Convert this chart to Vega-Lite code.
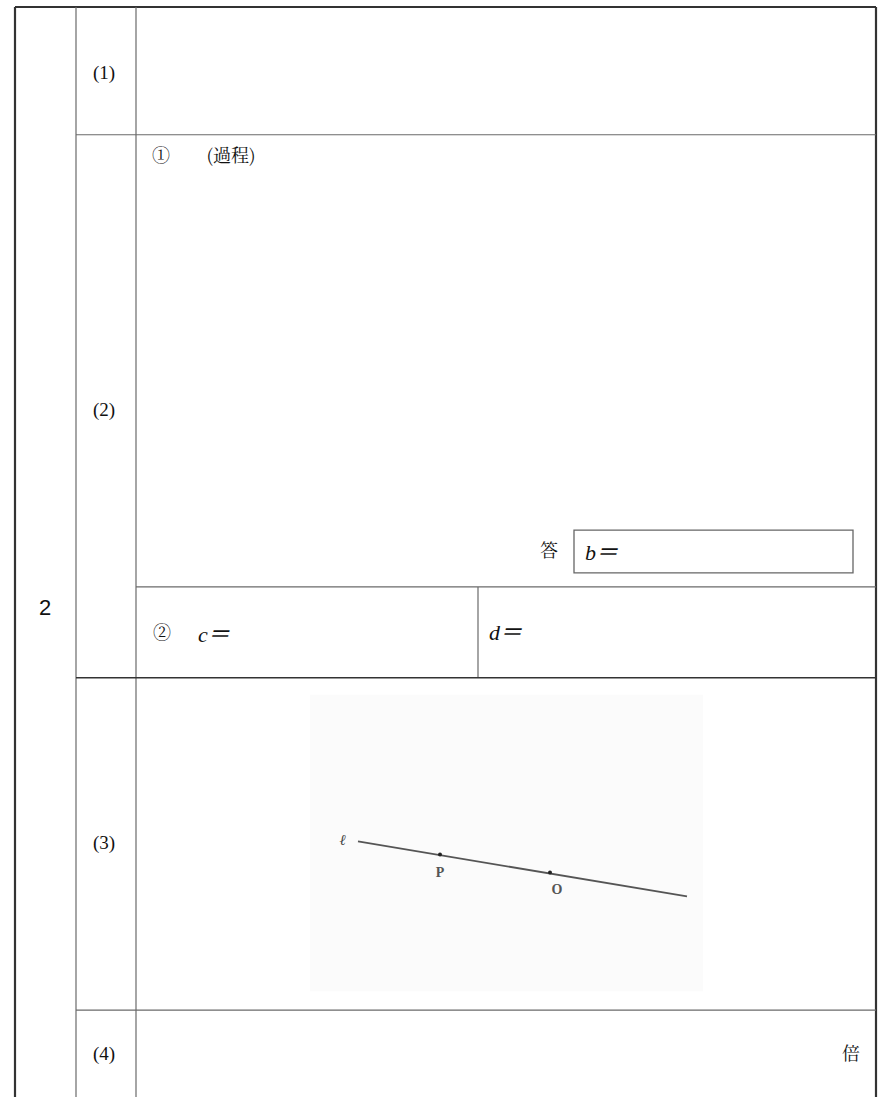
{
  "$schema": "https://vega.github.io/schema/vega-lite/v6.json",
  "width": 882,
  "height": 1099,
  "padding": 0,
  "autosize": {"type": "fit", "contains": "padding"},
  "background": "white",
  "config": {"view": {"stroke": null}, "axis": {"disable": true}},
  "datasets": {
    "lines": [
      {"g": "outer", "x": 15, "y": 7, "x2": 876, "y2": 7},
      {"g": "outer", "x": 15, "y": 7, "x2": 15, "y2": 1099},
      {"g": "outer", "x": 876, "y": 7, "x2": 876, "y2": 1099},
      {"g": "inner", "x": 76, "y": 7, "x2": 76, "y2": 1099},
      {"g": "inner", "x": 136, "y": 7, "x2": 136, "y2": 1099},
      {"g": "inner", "x": 76, "y": 135, "x2": 876, "y2": 135},
      {"g": "inner", "x": 136, "y": 588, "x2": 876, "y2": 588},
      {"g": "inner", "x": 478, "y": 588, "x2": 478, "y2": 679},
      {"g": "dark", "x": 76, "y": 679, "x2": 876, "y2": 679},
      {"g": "inner", "x": 76, "y": 1012, "x2": 876, "y2": 1012},
      {"g": "figure", "x": 358, "y": 843, "x2": 687, "y2": 898}
    ],
    "boxes": [
      {"g": "photo", "x": 310, "y": 696, "x2": 703, "y2": 993},
      {"g": "answer", "x": 574, "y": 531, "x2": 853, "y2": 574}
    ],
    "dots": [
      {"x": 440, "y": 856},
      {"x": 550, "y": 874}
    ],
    "labels": [
      {"g": "num", "x": 104, "y": 73, "t": "(1)"},
      {"g": "num", "x": 104, "y": 411, "t": "(2)"},
      {"g": "num", "x": 104, "y": 845, "t": "(3)"},
      {"g": "num", "x": 104, "y": 1056, "t": "(4)"},
      {"g": "big", "x": 45, "y": 609, "t": "2"},
      {"g": "jp", "x": 161, "y": 157, "t": "①"},
      {"g": "jp", "x": 231, "y": 157, "t": "(過程)"},
      {"g": "jp", "x": 549, "y": 553, "t": "答"},
      {"g": "jp", "x": 162, "y": 635, "t": "②"},
      {"g": "jp", "x": 851, "y": 1057, "t": "倍"},
      {"g": "math", "x": 585, "y": 554, "t": "b＝"},
      {"g": "math", "x": 198, "y": 636, "t": "c＝"},
      {"g": "math", "x": 489, "y": 634, "t": "d＝"},
      {"g": "fig", "x": 440, "y": 875, "t": "P"},
      {"g": "fig", "x": 557, "y": 892, "t": "O"},
      {"g": "ell", "x": 343, "y": 842, "t": "ℓ"}
    ]
  },
  "layer": [
    {
      "data": {"name": "boxes"},
      "transform": [{"filter": "datum.g == 'photo'"}],
      "mark": {"type": "rect", "fill": "#fbfbfb", "stroke": null},
      "encoding": {
        "x": {"field": "x", "type": "quantitative", "scale": {"domain": [0, 882], "nice": false, "zero": false}, "axis": null},
        "x2": {"field": "x2"},
        "y": {"field": "y", "type": "quantitative", "scale": {"domain": [0, 1099], "nice": false, "zero": false, "reverse": true}, "axis": null},
        "y2": {"field": "y2"}
      }
    },
    {
      "data": {"name": "boxes"},
      "transform": [{"filter": "datum.g == 'answer'"}],
      "mark": {"type": "rect", "fill": null, "stroke": "#666666", "strokeWidth": 1.3},
      "encoding": {
        "x": {"field": "x", "type": "quantitative"},
        "x2": {"field": "x2"},
        "y": {"field": "y", "type": "quantitative"},
        "y2": {"field": "y2"}
      }
    },
    {
      "data": {"name": "lines"},
      "transform": [{"filter": "datum.g == 'outer'"}],
      "mark": {"type": "rule", "stroke": "#333333", "strokeWidth": 2.2},
      "encoding": {
        "x": {"field": "x", "type": "quantitative"},
        "x2": {"field": "x2"},
        "y": {"field": "y", "type": "quantitative"},
        "y2": {"field": "y2"}
      }
    },
    {
      "data": {"name": "lines"},
      "transform": [{"filter": "datum.g == 'inner'"}],
      "mark": {"type": "rule", "stroke": "#6a6a6a", "strokeWidth": 1.2},
      "encoding": {
        "x": {"field": "x", "type": "quantitative"},
        "x2": {"field": "x2"},
        "y": {"field": "y", "type": "quantitative"},
        "y2": {"field": "y2"}
      }
    },
    {
      "data": {"name": "lines"},
      "transform": [{"filter": "datum.g == 'dark'"}],
      "mark": {"type": "rule", "stroke": "#333333", "strokeWidth": 1.3},
      "encoding": {
        "x": {"field": "x", "type": "quantitative"},
        "x2": {"field": "x2"},
        "y": {"field": "y", "type": "quantitative"},
        "y2": {"field": "y2"}
      }
    },
    {
      "data": {"name": "lines"},
      "transform": [{"filter": "datum.g == 'figure'"}],
      "mark": {"type": "rule", "stroke": "#555555", "strokeWidth": 1.8},
      "encoding": {
        "x": {"field": "x", "type": "quantitative"},
        "x2": {"field": "x2"},
        "y": {"field": "y", "type": "quantitative"},
        "y2": {"field": "y2"}
      }
    },
    {
      "data": {"name": "dots"},
      "mark": {"type": "circle", "fill": "#222222", "size": 16, "opacity": 1},
      "encoding": {
        "x": {"field": "x", "type": "quantitative"},
        "y": {"field": "y", "type": "quantitative"}
      }
    },
    {
      "data": {"name": "labels"},
      "transform": [{"filter": "datum.g == 'num'"}],
      "mark": {"type": "text", "font": "Liberation Serif, Noto Sans CJK JP", "fontSize": 19, "fill": "#111111", "align": "center", "baseline": "middle"},
      "encoding": {
        "x": {"field": "x", "type": "quantitative"},
        "y": {"field": "y", "type": "quantitative"},
        "text": {"field": "t"}
      }
    },
    {
      "data": {"name": "labels"},
      "transform": [{"filter": "datum.g == 'big'"}],
      "mark": {"type": "text", "font": "Liberation Sans", "fontSize": 22, "fill": "#111111", "align": "center", "baseline": "middle"},
      "encoding": {
        "x": {"field": "x", "type": "quantitative"},
        "y": {"field": "y", "type": "quantitative"},
        "text": {"field": "t"}
      }
    },
    {
      "data": {"name": "labels"},
      "transform": [{"filter": "datum.g == 'jp'"}],
      "mark": {"type": "text", "font": "Noto Serif CJK JP, Noto Sans CJK JP", "fontSize": 18, "fill": "#111111", "align": "center", "baseline": "middle"},
      "encoding": {
        "x": {"field": "x", "type": "quantitative"},
        "y": {"field": "y", "type": "quantitative"},
        "text": {"field": "t"}
      }
    },
    {
      "data": {"name": "labels"},
      "transform": [{"filter": "datum.g == 'math'"}],
      "mark": {"type": "text", "font": "Liberation Serif, Noto Sans CJK JP", "fontSize": 22, "fontStyle": "italic", "fill": "#111111", "align": "left", "baseline": "middle"},
      "encoding": {
        "x": {"field": "x", "type": "quantitative"},
        "y": {"field": "y", "type": "quantitative"},
        "text": {"field": "t"}
      }
    },
    {
      "data": {"name": "labels"},
      "transform": [{"filter": "datum.g == 'fig'"}],
      "mark": {"type": "text", "font": "Liberation Serif", "fontSize": 14, "fontWeight": "bold", "fill": "#555555", "align": "center", "baseline": "middle"},
      "encoding": {
        "x": {"field": "x", "type": "quantitative"},
        "y": {"field": "y", "type": "quantitative"},
        "text": {"field": "t"}
      }
    },
    {
      "data": {"name": "labels"},
      "transform": [{"filter": "datum.g == 'ell'"}],
      "mark": {"type": "text", "font": "Liberation Serif", "fontSize": 15, "fontStyle": "italic", "fontWeight": "bold", "fill": "#444444", "align": "center", "baseline": "middle"},
      "encoding": {
        "x": {"field": "x", "type": "quantitative"},
        "y": {"field": "y", "type": "quantitative"},
        "text": {"field": "t"}
      }
    }
  ]
}
